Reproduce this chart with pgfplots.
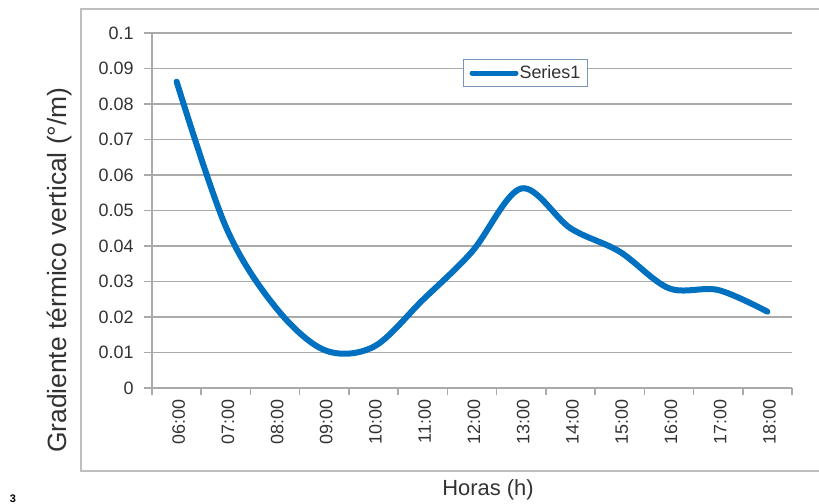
\documentclass[border=0pt]{standalone}
\usepackage{pgfplots}
\pgfplotsset{compat=1.18}
\usepackage{fontspec}
\setmainfont{Liberation Sans}
\definecolor{lineblue}{RGB}{0,112,192}
\definecolor{gridgray}{RGB}{170,170,170}
\definecolor{framegray}{RGB}{190,190,190}
\definecolor{txt}{RGB}{50,50,50}
\definecolor{legborder}{RGB}{120,150,185}
\begin{document}
\begin{tikzpicture}[x=1bp,y=1bp]
\path[use as bounding box] (0,0) rectangle (819,504);
\draw[framegray, line width=1.5bp] (820,495) -- (81,495) -- (81,33) -- (820,33);
\node[anchor=south, inner sep=0pt, font=\bfseries\fontsize{11}{11}\selectfont] at (13,1) {3};
\begin{axis}[
  at={(152bp,116bp)}, anchor=south west,
  scale only axis, width=640bp, height=355bp,
  xmin=-0.5, xmax=12.5, ymin=0, ymax=0.1,
  axis x line*=bottom, axis y line*=left,
  axis line style={gridgray, line width=1.5bp, -},
  ytick={0,0.01,0.02,0.03,0.04,0.05,0.06,0.07,0.08,0.09,0.1},
  yticklabels={0,0.01,0.02,0.03,0.04,0.05,0.06,0.07,0.08,0.09,0.1},
  scaled y ticks=false,
  ymajorgrids, grid style={gridgray, line width=1.5bp},
  xtick={0,...,12},
  xticklabels={06:00,07:00,08:00,09:00,10:00,11:00,12:00,13:00,14:00,15:00,16:00,17:00,18:00},
  minor xtick={-0.5,0.5,1.5,2.5,3.5,4.5,5.5,6.5,7.5,8.5,9.5,10.5,11.5,12.5},
  tick align=outside,
  major tick length=8bp, minor tick length=7bp,
  major x tick style={draw=none},
  minor x tick style={gridgray, line width=1.5bp},
  major y tick style={gridgray, line width=1.5bp},
  tick label style={font=\fontsize{18}{20}\selectfont, text=txt},
  yticklabel style={xshift=-7bp},
  xticklabel style={rotate=90, anchor=east, yshift=-2bp},
  ylabel={Gradiente térmico vertical (°/m)},
  ylabel style={at={(axis description cs:-0.145,0.332)}, anchor=center, font=\fontsize{26.5}{28}\selectfont, text=txt},
  xlabel={Horas (h)},
  xlabel style={at={(axis description cs:0.525,-0.287)}, anchor=center, font=\fontsize{22}{24}\selectfont, text=txt},
  legend style={at={(axis description cs:0.486,0.926)}, anchor=north west,
    draw=legborder, line width=1bp, font=\fontsize{18}{20}\selectfont, text=txt,
    inner xsep=6bp, inner ysep=5bp, nodes={inner sep=1bp}},
  legend image code/.code={\draw[#1, line width=5bp, line cap=round] (0bp,0bp) -- (44bp,0bp);},
]
\addplot[lineblue, line width=6bp, line cap=round, smooth, tension=0.55] coordinates {
  (0,0.0863) (1,0.0454) (2,0.0229) (3,0.0107) (4,0.0116) (5,0.0248) (6,0.0384)
  (7,0.0562) (8,0.0450) (9,0.0384) (10,0.0281) (11,0.0276) (12,0.0215)
};
\addlegendentry{Series1}
\end{axis}
\end{tikzpicture}
\end{document}
